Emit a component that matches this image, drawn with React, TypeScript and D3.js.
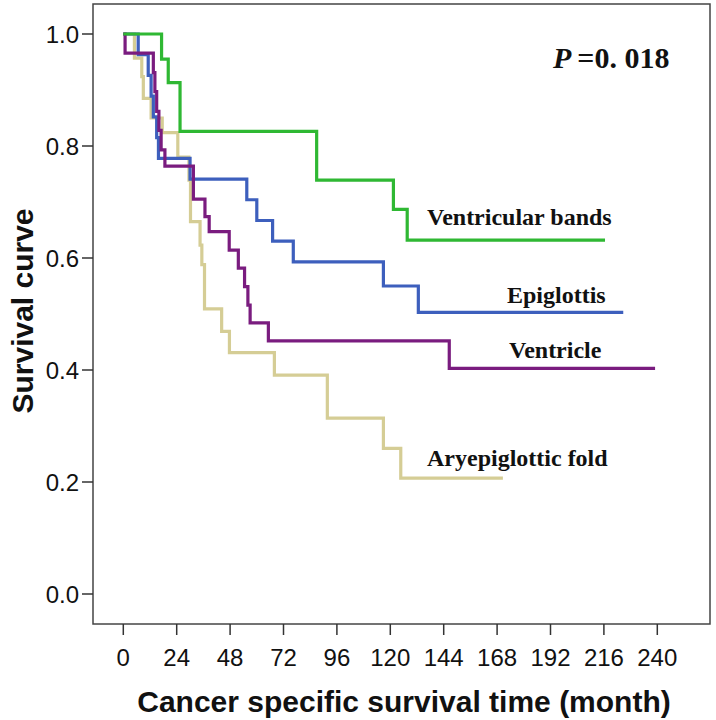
import React from "react";
import * as d3 from "d3";

// ---- data ----
const xTicks = [0, 24, 48, 72, 96, 120, 144, 168, 192, 216, 240];
const yTicks = [0, 0.2, 0.4, 0.6, 0.8, 1.0];

const bandsTimes = [0, 17.2, 20.2, 25.5, 86.9, 121.4, 127.6, 216.5];
const bandsSurv = [1, 0.955, 0.913, 0.826, 0.739, 0.687, 0.632, 0.632];

const epiTimes = [0, 6.7, 11.2, 12.5, 13.5, 15, 15.8, 30, 55.5, 60, 67.1, 76.4, 116.9, 132.6, 224.7];
const epiSurv = [1, 0.963, 0.926, 0.889, 0.852, 0.815, 0.778, 0.741, 0.704, 0.667, 0.63, 0.593, 0.55, 0.503, 0.503];

const ventTimes = [0, 0.8, 13.5, 14.2, 15, 16, 17, 18.7, 31.5, 36.7, 38.6, 47.6, 51.7, 54.5, 56, 57, 65.2, 146.5, 239];
const ventSurv = [1, 0.966, 0.931, 0.897, 0.862, 0.828, 0.793, 0.764, 0.705, 0.674, 0.647, 0.614, 0.582, 0.549, 0.516, 0.484, 0.452, 0.403, 0.403];

const aryTimes = [0, 5, 8.3, 9, 12.5, 17.5, 24.5, 29.5, 30.2, 34.5, 35.3, 36.5, 44.2, 47.7, 67.9, 91.7, 116.9, 124.7, 170.6];
const arySurv = [1, 0.957, 0.924, 0.885, 0.85, 0.824, 0.78, 0.739, 0.665, 0.623, 0.588, 0.509, 0.469, 0.431, 0.391, 0.314, 0.26, 0.207, 0.207];

const seriesNames = ["Aryepiglottic fold", "Epiglottis", "Ventricle", "Ventricular bands"];
const seriesColors = ["#d5cd95", "#3d5fbd", "#7a1c7f", "#2fb833"];
const pText = "=0. 018";

export default function App() {
  const x = d3.scaleLinear().domain([0, 240]).range([123.3, 657.3]);
  const y = d3.scaleLinear().domain([0, 1]).range([594, 34]);
  const line = d3
    .line<[number, number]>()
    .x((d) => x(d[0]))
    .y((d) => y(d[1]))
    .curve(d3.curveStepAfter);

  const series = [
    { t: aryTimes, s: arySurv },
    { t: epiTimes, s: epiSurv },
    { t: ventTimes, s: ventSurv },
    { t: bandsTimes, s: bandsSurv },
  ];

  const labelPos = [
    { x: 427, y: 466 },
    { x: 507, y: 303 },
    { x: 509, y: 358 },
    { x: 427, y: 225 },
  ];

  const sans = "'Liberation Sans', Arial, sans-serif";
  const serif = "'Liberation Serif', 'Times New Roman', serif";

  return (
    <svg
      width={716}
      height={720}
      style={{ position: "absolute", left: 0, top: 0, background: "#fff" }}
    >
      <rect x={0} y={0} width={716} height={720} fill="#fff" />
      {/* frame */}
      <rect x={93} y={4} width={617} height={620} fill="none" stroke="#444" strokeWidth={1.5} />
      {/* y ticks */}
      {yTicks.map((v) => (
        <g key={"y" + v}>
          <line x1={82} x2={93} y1={y(v)} y2={y(v)} stroke="#333" strokeWidth={1.5} />
          <text
            x={79}
            y={y(v)}
            dy="0.36em"
            textAnchor="end"
            fontFamily={sans}
            fontSize={24}
            fill="#111"
          >
            {v.toFixed(1)}
          </text>
        </g>
      ))}
      {/* x ticks */}
      {xTicks.map((v) => (
        <g key={"x" + v}>
          <line x1={x(v)} x2={x(v)} y1={624} y2={635} stroke="#333" strokeWidth={1.5} />
          <text x={x(v)} y={666} textAnchor="middle" fontFamily={sans} fontSize={24} fill="#111">
            {v}
          </text>
        </g>
      ))}
      {/* curves */}
      {series.map((sr, i) => {
        const pts: [number, number][] = sr.t.map((t, j) => [t, sr.s[j]]);
        return (
          <path
            key={seriesNames[i]}
            d={line(pts) || ""}
            fill="none"
            stroke={seriesColors[i]}
            strokeWidth={3.2}
            strokeLinejoin="miter"
          />
        );
      })}
      {/* series labels */}
      {seriesNames.map((n, i) => (
        <text
          key={"l" + n}
          x={labelPos[i].x}
          y={labelPos[i].y}
          fontFamily={serif}
          fontWeight="bold"
          fontSize={24}
          fill="#111"
        >
          {n}
        </text>
      ))}
      {/* P value */}
      <text x={553} y={68} fontFamily={serif} fontWeight="bold" fontSize={30} fill="#111">
        <tspan fontStyle="italic">P</tspan>
        <tspan dx={6}>{pText}</tspan>
      </text>
      {/* axis titles */}
      <text
        x={404}
        y={712}
        textAnchor="middle"
        fontFamily={sans}
        fontWeight="bold"
        fontSize={30}
        fill="#111"
      >
        Cancer specific survival time (month)
      </text>
      <text
        transform="translate(33,311) rotate(-90)"
        textAnchor="middle"
        fontFamily={sans}
        fontWeight="bold"
        fontSize={30}
        fill="#111"
      >
        Survival curve
      </text>
    </svg>
  );
}
